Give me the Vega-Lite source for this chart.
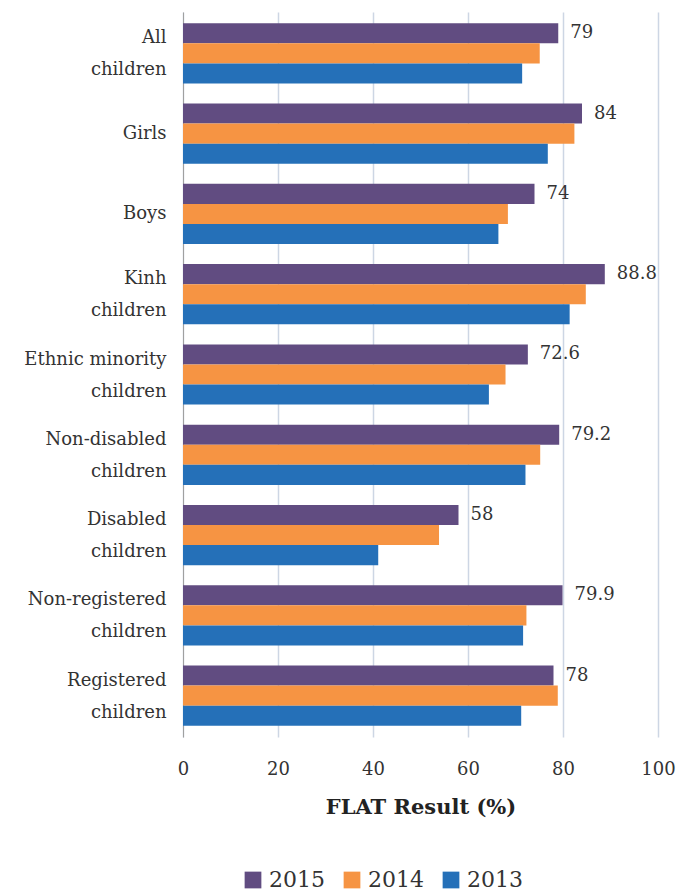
{
  "$schema": "https://vega.github.io/schema/vega-lite/v6.json",
  "width": 475,
  "height": 725,
  "autosize": "none",
  "padding": {"left": 183, "top": 12, "right": 22, "bottom": 154},
  "config": {"font": "DejaVu Serif", "view": {"stroke": null}},
  "data": {
    "values": [
      {"group": "All|children", "year": "2015", "value": 79},
      {"group": "All|children", "year": "2014", "value": 75.1},
      {"group": "All|children", "year": "2013", "value": 71.4},
      {"group": "Girls", "year": "2015", "value": 84},
      {"group": "Girls", "year": "2014", "value": 82.4},
      {"group": "Girls", "year": "2013", "value": 76.8},
      {"group": "Boys", "year": "2015", "value": 74},
      {"group": "Boys", "year": "2014", "value": 68.4},
      {"group": "Boys", "year": "2013", "value": 66.4},
      {"group": "Kinh|children", "year": "2015", "value": 88.8},
      {"group": "Kinh|children", "year": "2014", "value": 84.8},
      {"group": "Kinh|children", "year": "2013", "value": 81.4},
      {"group": "Ethnic minority|children", "year": "2015", "value": 72.6},
      {"group": "Ethnic minority|children", "year": "2014", "value": 67.9},
      {"group": "Ethnic minority|children", "year": "2013", "value": 64.4},
      {"group": "Non-disabled|children", "year": "2015", "value": 79.2},
      {"group": "Non-disabled|children", "year": "2014", "value": 75.2},
      {"group": "Non-disabled|children", "year": "2013", "value": 72.1},
      {"group": "Disabled|children", "year": "2015", "value": 58},
      {"group": "Disabled|children", "year": "2014", "value": 53.9},
      {"group": "Disabled|children", "year": "2013", "value": 41.1},
      {"group": "Non-registered|children", "year": "2015", "value": 79.9},
      {"group": "Non-registered|children", "year": "2014", "value": 72.3},
      {"group": "Non-registered|children", "year": "2013", "value": 71.6},
      {"group": "Registered|children", "year": "2015", "value": 78},
      {"group": "Registered|children", "year": "2014", "value": 78.9},
      {"group": "Registered|children", "year": "2013", "value": 71.2}
    ]
  },
  "encoding": {
    "y": {
      "field": "group",
      "type": "nominal",
      "sort": ["All|children", "Girls", "Boys", "Kinh|children", "Ethnic minority|children", "Non-disabled|children", "Disabled|children", "Non-registered|children", "Registered|children"],
      "scale": {"paddingInner": 0.25, "paddingOuter": 0.14},
      "axis": {
        "title": null,
        "labelExpr": "split(datum.label, '|')",
        "labelLineHeight": 32,
        "labelFontSize": 18,
        "labelColor": "#333333",
        "labelPadding": 17,
        "labelOffset": {"condition": {"test": "indexof(datum.label, '|') >= 0", "value": -15}, "value": 0},
        "ticks": false,
        "domain": true,
        "domainColor": "#a0a0a0",
        "grid": false
      }
    },
    "yOffset": {"field": "year", "type": "nominal", "sort": ["2015", "2014", "2013"]},
    "x": {
      "field": "value",
      "type": "quantitative",
      "scale": {"domain": [0, 100]},
      "axis": {
        "title": "FLAT Result (%)",
        "titleFontSize": 21,
        "titleFontWeight": "bold",
        "titleColor": "#222222",
        "titlePadding": 18,
        "values": [0, 20, 40, 60, 80, 100],
        "labelFontSize": 18,
        "labelColor": "#333333",
        "labelPadding": 23,
        "labelFlush": false,
        "ticks": false,
        "domain": false,
        "grid": true,
        "gridColor": "#cdd6e4",
        "gridWidth": 1.5
      }
    }
  },
  "layer": [
    {
      "mark": {"type": "bar"},
      "encoding": {
        "color": {
          "field": "year",
          "type": "nominal",
          "sort": ["2015", "2014", "2013"],
          "scale": {"domain": ["2015", "2014", "2013"], "range": ["#614c81", "#f69443", "#2570b8"]},
          "legend": {
            "title": null,
            "orient": "none",
            "legendX": 59,
            "legendY": 857,
            "direction": "horizontal",
            "symbolType": "square",
            "symbolSize": 280,
            "symbolStrokeWidth": 0,
            "labelFontSize": 22,
            "labelColor": "#333333",
            "columnPadding": 16,
            "labelOffset": 5
          }
        }
      }
    },
    {
      "transform": [{"filter": "datum.year == '2015'"}],
      "mark": {"type": "text", "align": "left", "baseline": "middle", "dx": 12, "fontSize": 18, "color": "#333333"},
      "encoding": {"text": {"field": "value", "type": "quantitative"}}
    }
  ]
}
